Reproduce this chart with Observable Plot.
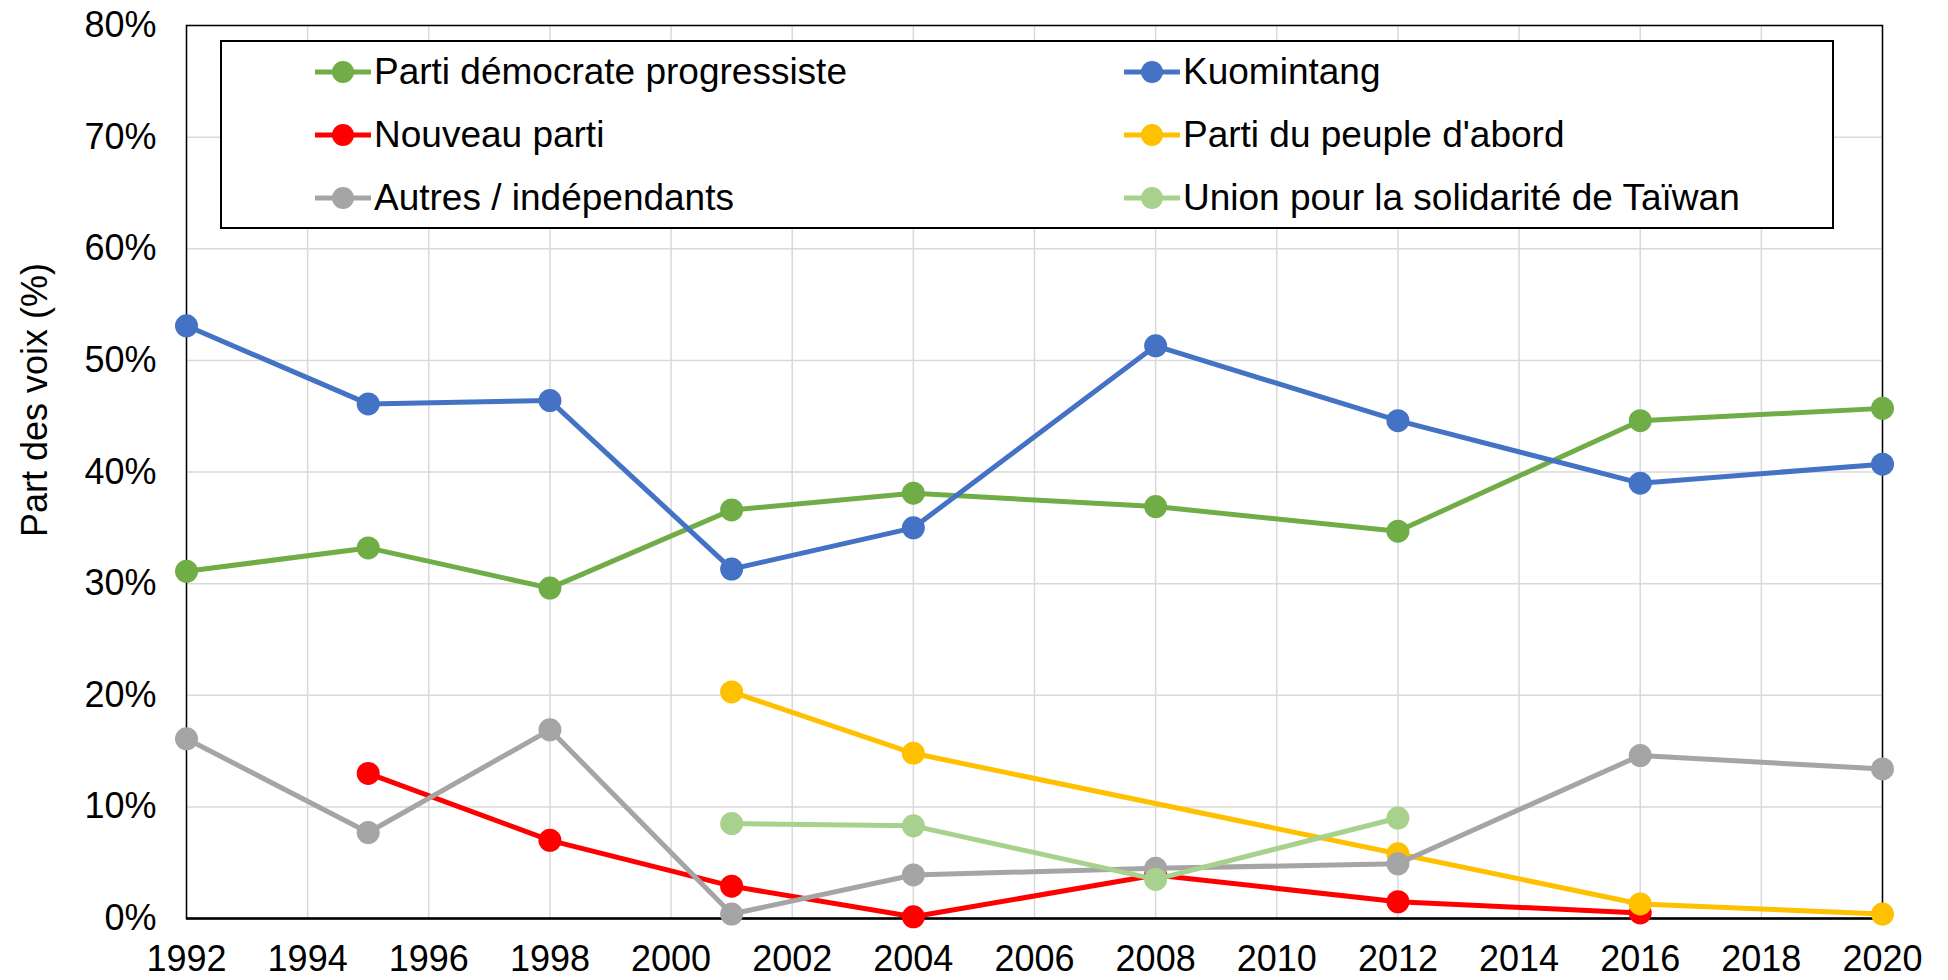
<!DOCTYPE html>
<html>
<head>
<meta charset="utf-8">
<script src="https://cdn.jsdelivr.net/npm/d3@7"></script>
<script src="https://cdn.jsdelivr.net/npm/@observablehq/plot@0.6"></script>
<style>
  html, body { margin: 0; padding: 0; background: #fff; }
  #wrap { position: relative; width: 1948px; height: 980px; font-family: "Liberation Sans", Arial, sans-serif; }
  #ylabel { position: absolute; left: 35px; top: 400px; transform: translate(-50%, -50%) rotate(-90deg); font-size: 36px; white-space: nowrap; color: #000; }
  #legend { position: absolute; left: 220px; top: 40px; width: 1610px; height: 185px; border: 2px solid #000; background: #fff; box-sizing: content-box; }
  .item { position: absolute; display: flex; align-items: center; font-size: 37px; white-space: nowrap; transform: translateY(-50%); }
  .item svg { display: block; margin-right: 3px; }
</style>
</head>
<body>
<div id="wrap"></div>
<script>
// Data
const years = [1992, 1995, 1998, 2001, 2004, 2008, 2012, 2016, 2020];
const parties = [
  "Parti démocrate progressiste",
  "Kuomintang",
  "Nouveau parti",
  "Parti du peuple d'abord",
  "Autres / indépendants",
  "Union pour la solidarité de Taïwan"
];
const colors = ["#70AD47", "#4472C4", "#FF0000", "#FFC000", "#A5A5A5", "#A9D18E"];
const dpp    = [31.1, 33.2, 29.6, 36.6, 38.1, 36.9, 34.7, 44.6, 45.7];
const kmt    = [53.1, 46.1, 46.4, 31.3, 35.0, 51.3, 44.6, 39.0, 40.7];
const np     = [null, 13.0, 7.0, 2.9, 0.15, 3.9, 1.5, 0.5, null];
const pfp    = [null, null, null, 20.3, 14.8, null, 5.8, 1.3, 0.4];
const others = [16.1, 7.7, 16.9, 0.4, 3.9, 4.5, 4.9, 14.6, 13.4];
const tsu    = [null, null, null, 8.5, 8.3, 3.5, 9.0, null, null];
const yTicks = [0, 10, 20, 30, 40, 50, 60, 70, 80];
const xTicks = [1992, 1994, 1996, 1998, 2000, 2002, 2004, 2006, 2008, 2010, 2012, 2014, 2016, 2018, 2020];
const yLabel = "Part des voix (%)";

const seriesValues = [dpp, kmt, np, pfp, others, tsu];
const rows = [];
seriesValues.forEach((vals, i) => {
  vals.forEach((v, j) => { if (v != null) rows.push({party: parties[i], year: years[j], value: v}); });
});

const seriesMarks = [];
parties.forEach((p, i) => {
  const d = rows.filter(r => r.party === p);
  seriesMarks.push(Plot.line(d, {x: "year", y: "value", stroke: colors[i], strokeWidth: 5, curve: "linear"}));
  seriesMarks.push(Plot.dot(d, {x: "year", y: "value", fill: colors[i], r: 11.5, stroke: "none"}));
});

const chart = Plot.plot({
  width: 1948,
  height: 980,
  marginLeft: 186,
  marginRight: 66,
  marginTop: 25,
  marginBottom: 62,
  style: {fontFamily: "'Liberation Sans', Arial, sans-serif", fontSize: "36px", color: "#000", background: "#fff", overflow: "visible"},
  x: {domain: [1992, 2020], ticks: xTicks, tickFormat: d => String(d), label: null},
  y: {domain: [0, 80], ticks: yTicks, tickFormat: d => d + "%", label: null},
  marks: [
    Plot.gridX(xTicks, {stroke: "#D9D9D9", strokeOpacity: 1, strokeWidth: 1.5}),
    Plot.gridY(yTicks, {stroke: "#D9D9D9", strokeOpacity: 1, strokeWidth: 1.5}),
    Plot.axisX(xTicks, {tickSize: 0, tickPadding: 27, tickFormat: d => String(d), fontSize: 36}),
    Plot.axisY(yTicks, {tickSize: 0, tickPadding: 30, tickFormat: d => d + "%", fontSize: 36}),
    Plot.frame({stroke: "#000", strokeWidth: 1.5}),
    Plot.ruleY([0], {stroke: "#000", strokeWidth: 2.5}),
    ...seriesMarks
  ]
});

const wrap = document.getElementById("wrap");
wrap.appendChild(chart);

const yl = document.createElement("div");
yl.id = "ylabel";
yl.textContent = yLabel;
wrap.appendChild(yl);

const legend = document.createElement("div");
legend.id = "legend";
wrap.appendChild(legend);
const colLeft = [93, 902];
const rowTop = [30, 93, 156];
parties.forEach((p, i) => {
  const item = document.createElement("div");
  item.className = "item";
  item.style.left = colLeft[i % 2] + "px";
  item.style.top = rowTop[Math.floor(i / 2)] + "px";
  item.innerHTML = `<svg width="56" height="26"><line x1="0" x2="56" y1="13" y2="13" stroke="${colors[i]}" stroke-width="5"/><circle cx="28" cy="13" r="11" fill="${colors[i]}"/></svg>`;
  const span = document.createElement("span");
  span.textContent = p;
  item.appendChild(span);
  legend.appendChild(item);
});
</script>
</body>
</html>
